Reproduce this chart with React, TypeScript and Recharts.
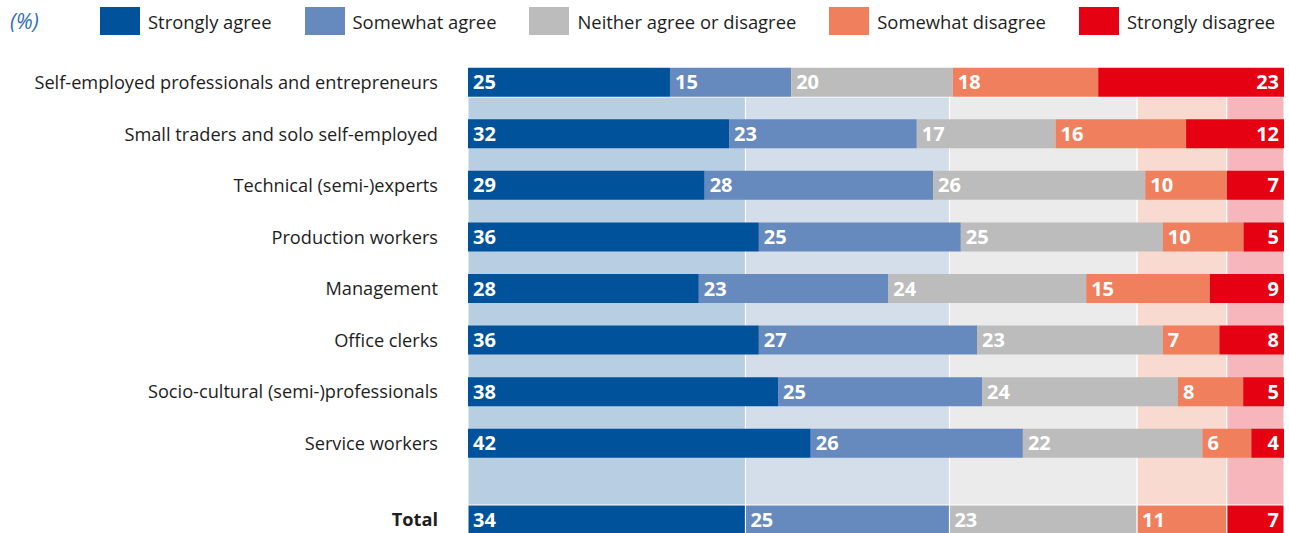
import { BarChart, Bar, XAxis, YAxis, LabelList, Legend } from "recharts"

const FONT = "'Open Sans', 'Noto Sans', sans-serif"

const groups = [
  "Self-employed professionals and entrepreneurs",
  "Small traders and solo self-employed",
  "Technical (semi-)experts",
  "Production workers",
  "Management",
  "Office clerks",
  "Socio-cultural (semi-)professionals",
  "Service workers",
  "Total",
]
const stronglyAgree = [25, 32, 29, 36, 28, 36, 38, 42, 34]
const somewhatAgree = [15, 23, 28, 25, 23, 27, 25, 26, 25]
const neither = [20, 17, 26, 25, 24, 23, 24, 22, 23]
const somewhatDisagree = [18, 16, 10, 10, 15, 7, 8, 6, 11]
const stronglyDisagree = [23, 12, 7, 5, 9, 8, 5, 4, 7]

// series styling: bar colour + pale tone for the background bands
const SERIES = [
  { key: "sa", name: "Strongly agree", values: stronglyAgree, color: "#00529B", pale: "#B8CFE3" },
  { key: "wa", name: "Somewhat agree", values: somewhatAgree, color: "#6689BE", pale: "#D4DEEA" },
  { key: "ne", name: "Neither agree or disagree", values: neither, color: "#BBBCBB", pale: "#EBEBEB" },
  { key: "wd", name: "Somewhat disagree", values: somewhatDisagree, color: "#F07F5E", pale: "#F8DAD0" },
  { key: "sd", name: "Strongly disagree", values: stronglyDisagree, color: "#E50012", pale: "#F7B6BB" },
]

const rows = groups.map((name, i) => {
  const r: Record<string, string | number> = { name }
  SERIES.forEach((s) => { r[s.key] = s.values[i] })
  return r
})
const groupRows = rows.slice(0, rows.length - 1)
const totalRows = rows.slice(rows.length - 1)

function CategoryTick(props: any) {
  const { x, y, payload } = props
  const bold = payload.value === "Total"
  return (
    <text x={x} y={y} dy="0.36em" textAnchor="end" fill="#1e1e1e"
      fontSize={18.2} fontWeight={bold ? 700 : 400} fontFamily={FONT}>
      {payload.value}
    </text>
  )
}

// legend keeps the series order (recharts would sort it by name)
function renderLegend() {
  return (
    <div style={{ display: "flex", alignItems: "center", height: 42, fontFamily: FONT, fontSize: 18.4, color: "#1e1e1e", whiteSpace: "nowrap" }}>
      <span style={{ marginLeft: 10, width: 90, flexShrink: 0, fontStyle: "italic", fontSize: 21, color: "#2F6EB5" }}>(%)</span>
      {SERIES.map((s) => (
        <div key={s.key} style={{ display: "flex", alignItems: "center", flexShrink: 0, marginRight: 33 }}>
          <span style={{ width: 40, height: 28, background: s.color, marginRight: 8, flexShrink: 0 }} />
          <span>{s.name}</span>
        </div>
      ))}
    </div>
  )
}

function segments(outline: boolean) {
  return SERIES.map((s, i) => (
    <Bar key={s.key} dataKey={s.key} name={s.name} stackId="a" fill={s.color}
      stroke={outline ? "#fff" : undefined} strokeWidth={outline ? 1 : 0}
      isAnimationActive={false}>
      <LabelList dataKey={s.key} position={i === SERIES.length - 1 ? "insideRight" : "insideLeft"}
        offset={5} fill="#fff" fontSize={20} fontWeight={700} fontFamily={FONT} />
    </Bar>
  ))
}

export default function App() {
  return (
    <div style={{ position: "absolute", left: 0, top: 0, width: 1289, height: 533, overflow: "hidden", background: "#fff" }}>
      {/* background bands, built from the Total row */}
      <div style={{ position: "absolute", left: 0, top: 97 }}>
        <BarChart width={1289} height={436} data={totalRows} layout="vertical" stackOffset="expand"
          margin={{ top: 0, right: 5, bottom: 0, left: 468 }} barCategoryGap={0}>
          <XAxis type="number" hide />
          <YAxis type="category" dataKey="name" hide />
          {SERIES.map((s) => (
            <Bar key={s.key} dataKey={s.key} stackId="a" fill={s.pale} stroke="#fff" strokeWidth={1}
              isAnimationActive={false} />
          ))}
        </BarChart>
      </div>

      <div style={{ position: "absolute", left: 0, top: 0 }}>
        <BarChart width={1289} height={470} data={groupRows} layout="vertical" stackOffset="expand"
          margin={{ top: 56.7, right: 5, bottom: 0.7, left: 8 }} barSize={29}>
          <XAxis type="number" hide />
          <YAxis type="category" dataKey="name" width={460} axisLine={false} tickLine={false}
            tickSize={0} tickMargin={30} interval={0} tick={(p: any) => <CategoryTick {...p} />} />
          <Legend verticalAlign="middle" align="center" content={renderLegend}
            wrapperStyle={{ top: 0, left: 0, width: 1289, height: 42 }} />
          {segments(false)}
        </BarChart>
      </div>

      <div style={{ position: "absolute", left: 0, top: 490 }}>
        <BarChart width={1289} height={59} data={totalRows} layout="vertical" stackOffset="expand"
          margin={{ top: 0, right: 5, bottom: 0, left: 8 }} barSize={29}>
          <XAxis type="number" hide />
          <YAxis type="category" dataKey="name" width={460} axisLine={false} tickLine={false}
            tickSize={0} tickMargin={30} interval={0} tick={(p: any) => <CategoryTick {...p} />} />
          {segments(true)}
        </BarChart>
      </div>
    </div>
  )
}
